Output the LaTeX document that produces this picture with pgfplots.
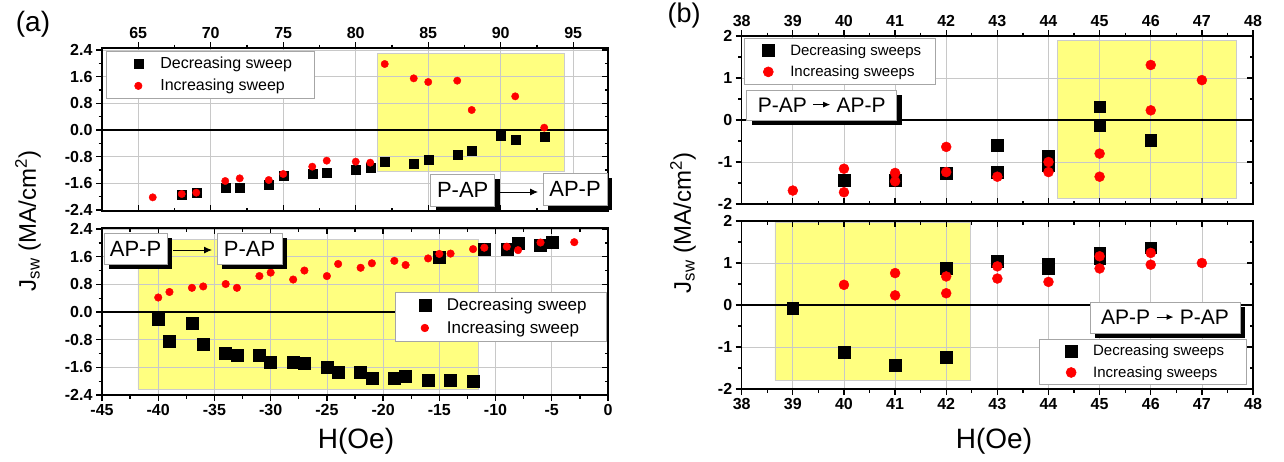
\documentclass[border=0pt]{standalone}
\usepackage{fontspec}
\setmainfont{Liberation Sans}
\usepackage{pgfplots}
\pgfplotsset{compat=1.18}
\usetikzlibrary{shadows,arrows.meta}
\definecolor{yel}{RGB}{255,255,128}
\definecolor{gridc}{RGB}{200,200,200}

\pgfplotsset{
  common/.style={scale only axis, set layers, axis on top=false,
    /pgf/number format/assume math mode=true,
    tick label style={font=\fontsize{16}{19}\selectfont\bfseries},
    axis line style={line width=1.5pt},
    every tick/.append style={line width=1.3pt, black},
    major tick length=6pt, minor tick length=3.5pt},
  mainax/.style={common, grid=major, major grid style={gridc, line width=0.7pt}, tick align=outside},
  overax/.style={common, tick align=inside, xticklabels={}, yticklabels={}, grid=none},
  yfmt/.style={yticklabel style={/pgf/number format/.cd, fixed, fixed zerofill, precision=1}},
  atop/.style={at={(102pt,-48pt)}, anchor=north west, width=506pt, height=163pt,
    xmin=62.5, xmax=97.4, ymin=-2.43, ymax=2.46, xtick={65,70,...,95}, minor x tick num=1,
    ytick={-2.4,-1.6,-0.8,0,0.8,1.6,2.4}, minor y tick num=1},
  abot/.style={at={(102pt,-228pt)}, anchor=north west, width=506pt, height=167pt,
    xmin=-45, xmax=0, ymin=-2.4, ymax=2.43, xtick={-45,-40,...,0}, minor x tick num=1,
    ytick={-2.4,-1.6,-0.8,0,0.8,1.6,2.4}, minor y tick num=1},
  btop/.style={at={(741.7pt,-36pt)}, anchor=north west, width=511.3pt, height=168pt,
    xmin=38, xmax=48, ymin=-2, ymax=2, xtick={38,...,48}, minor x tick num=1,
    ytick={-2,-1,0,1,2}, minor y tick num=1},
  bbot/.style={at={(741.7pt,-221pt)}, anchor=north west, width=511.3pt, height=168pt,
    xmin=38, xmax=48, ymin=-2, ymax=2, xtick={38,...,48}, minor x tick num=1,
    ytick={-2,-1,0,1,2}, minor y tick num=1},
  lg/.style={legend image code/.code={\draw[##1, only marks] plot coordinates {(12pt,0pt)}; \path[draw=none, fill=none] (0pt,0pt) -- (32pt,0pt);}},
  lgbox/.style={legend cell align=left, draw=gray!70, line width=0.6pt, fill=white,
    font=\fontsize{#1}{#1}\selectfont, row sep=5pt, inner ysep=4pt},
}
\tikzset{lbl/.style={draw=gray!70, fill=white, line width=0.6pt, inner sep=0pt,
  drop shadow={shadow xshift=5pt, shadow yshift=-5pt, fill=black, opacity=1}}}

\begin{document}
\begin{tikzpicture}

% ---------- (a) top ----------
\begin{axis}[mainax, atop, yfmt, xtick pos=right, xticklabel pos=right, ytick pos=left,
  legend style={lgbox=16, at={(axis description cs:0.008,0.982)}, anchor=north west, inner xsep=20pt}]
\addplot[fill=yel, draw=gray!40, on layer=axis background, forget plot] coordinates {(81.5,2.3) (94.4,2.3) (94.4,-1.23) (81.5,-1.23) (81.5,2.3)};
\addplot[black, line width=1.3pt, forget plot] coordinates {(62.5,0) (97.4,0)};
\addplot[only marks, lg, mark=square*, mark size=4.5pt, black] coordinates {
(68,-1.95) (69,-1.88) (71,-1.72) (72,-1.72) (74,-1.65) (75,-1.38) (77,-1.30) (78,-1.27) (80,-1.18) (81,-1.13) (82,-0.95) (84,-1.02) (85,-0.88) (87,-0.73) (88,-0.63) (90,-0.16) (91,-0.30) (93,-0.20)};
\addlegendentry{Decreasing sweep}
\addplot[only marks, lg, mark=*, mark size=3.7pt, red] coordinates {
(66,-2.02) (68,-1.92) (69,-1.88) (71,-1.53) (72,-1.45) (74,-1.50) (75,-1.32) (77,-1.10) (78,-0.92) (80,-0.95) (81,-0.98) (82,1.98) (84,1.55) (85,1.44) (87,1.48) (88,0.60) (91,1.01) (93,0.07)};
\addlegendentry{Increasing sweep}
\end{axis}
\begin{axis}[overax, atop, xtick pos=left, ytick pos=right]
\addplot[draw=none] coordinates {(70,0)};
\end{axis}

% ---------- (a) bottom ----------
\begin{axis}[mainax, abot, yfmt, xtick pos=left, ytick pos=left,
  legend style={lgbox=17, at={(axis description cs:0.998,0.617)}, anchor=north east, inner xsep=18pt}]
\addplot[fill=yel, draw=gray!40, on layer=axis background, forget plot] coordinates {(-41.8,2.10) (-11.5,2.10) (-11.5,-2.23) (-41.8,-2.23) (-41.8,2.10)};
\addplot[black, line width=1.3pt, forget plot] coordinates {(-45,0) (0,0)};
\addplot[only marks, lg, mark=square*, mark size=6pt, black] coordinates {
(-40,-0.20) (-39,-0.83) (-37,-0.33) (-36,-0.93) (-34,-1.18) (-33,-1.24) (-31,-1.24) (-30,-1.44) (-28,-1.44) (-27,-1.48) (-25,-1.61) (-24,-1.74) (-22,-1.73) (-21,-1.92) (-19,-1.92) (-18,-1.87) (-16,-1.97) (-15,1.60) (-14,-1.97) (-12,-2.01) (-11,1.83) (-9,1.81) (-8,1.99) (-6,1.92) (-5,2.03)};
\addlegendentry{Decreasing sweep}
\addplot[only marks, lg, mark=*, mark size=3.8pt, red] coordinates {
(-40,0.42) (-39,0.58) (-37,0.70) (-36,0.74) (-34,0.81) (-33,0.70) (-31,1.04) (-30,1.14) (-28,0.94) (-27,1.20) (-25,1.04) (-24,1.39) (-22,1.28) (-21,1.41) (-19,1.48) (-18,1.36) (-16,1.55) (-15,1.68) (-14,1.69) (-12,1.82) (-11,1.86) (-9,1.89) (-8,1.79) (-6,2.01) (-3,2.02)};
\addlegendentry{Increasing sweep}
\end{axis}
\begin{axis}[overax, abot, xtick pos=right, ytick pos=right]
\addplot[draw=none] coordinates {(-20,0)};
\end{axis}

% ---------- (b) top ----------
\begin{axis}[mainax, btop, xtick pos=right, xticklabel pos=right, ytick pos=left,
  legend style={lgbox=15, at={(axis description cs:0.0045,0.988)}, anchor=north west, inner xsep=12pt}]
\addplot[fill=yel, draw=gray!40, on layer=axis background, forget plot] coordinates {(44.17,1.89) (47.68,1.89) (47.68,-1.87) (44.17,-1.87) (44.17,1.89)};
\addplot[black, line width=1.3pt, forget plot] coordinates {(38,0) (48,0)};
\addplot[only marks, lg, mark=square*, mark size=5.8pt, black] coordinates {
(40,-1.43) (41,-1.44) (42,-1.27) (43,-0.60) (43,-1.24) (44,-0.86) (44,-1.08) (45,0.32) (45,-0.12) (46,-0.48)};
\addlegendentry{Decreasing sweeps}
\addplot[only marks, lg, mark=*, mark size=5pt, red] coordinates {
(39,-1.68) (40,-1.16) (40,-1.72) (41,-1.26) (41,-1.46) (42,-0.64) (42,-1.24) (43,-1.35) (44,-1.00) (44,-1.24) (45,-0.80) (45,-1.35) (46,1.31) (46,0.23) (47,0.95)};
\addlegendentry{Increasing sweeps}
\end{axis}
\begin{axis}[overax, btop, xtick pos=left, ytick pos=right]
\addplot[draw=none] coordinates {(40,0)};
\end{axis}

% ---------- (b) bottom ----------
\begin{axis}[mainax, bbot, xtick pos=left, ytick pos=left,
  legend style={lgbox=15, at={(axis description cs:0.987,0.024)}, anchor=south east, inner xsep=20pt}]
\addplot[fill=yel, draw=gray!40, on layer=axis background, forget plot] coordinates {(38.65,1.98) (42.47,1.98) (42.47,-1.80) (38.65,-1.80) (38.65,1.98)};
\addplot[black, line width=1.3pt, forget plot] coordinates {(38,0) (48,0)};
\addplot[only marks, lg, mark=square*, mark size=5.8pt, black] coordinates {
(39,-0.08) (40,-1.12) (41,-1.44) (42,0.88) (42,-1.24) (43,1.04) (44,0.98) (44,0.86) (45,1.24) (45,1.12) (46,1.36)};
\addlegendentry{Decreasing sweeps}
\addplot[only marks, lg, mark=*, mark size=5pt, red] coordinates {
(40,0.48) (41,0.76) (41,0.23) (42,0.68) (42,0.28) (43,0.92) (43,0.63) (44,0.55) (45,1.16) (45,0.87) (46,1.24) (46,0.96) (47,1.0)};
\addlegendentry{Increasing sweeps}
\end{axis}
\begin{axis}[overax, bbot, xtick pos=right, ytick pos=right]
\addplot[draw=none] coordinates {(40,0)};
\end{axis}

% ---------- annotations ----------
\node[lbl, minimum width=64pt, minimum height=32pt, font=\fontsize{22}{26}\selectfont] at (462.7pt,-190pt) {P-AP};
\node[lbl, minimum width=64pt, minimum height=32pt, font=\fontsize{22}{26}\selectfont] at (575pt,-189pt) {AP-P};
\draw[-{Latex[length=8pt,width=7pt]}, line width=0.9pt] (500pt,-192pt) -- (538pt,-192pt);

\node[lbl, minimum width=63pt, minimum height=31pt, font=\fontsize{22}{26}\selectfont] at (135.5pt,-248.5pt) {AP-P};
\node[lbl, minimum width=65pt, minimum height=31pt, font=\fontsize{22}{26}\selectfont] at (249.5pt,-248.5pt) {P-AP};
\draw[-{Latex[length=8pt,width=7pt]}, line width=0.9pt] (173pt,-250pt) -- (212pt,-250pt);

\node[lbl, minimum width=150pt, minimum height=30pt, font=\fontsize{21}{25}\selectfont] at (821.7pt,-105pt) {P-AP \raisebox{0.22em}{\tikz\draw[-{Latex[length=7pt,width=6pt]}, line width=1pt] (0,0) -- (17pt,0);} AP-P};
\node[lbl, minimum width=150pt, minimum height=31pt, font=\fontsize{21}{25}\selectfont] at (1165pt,-317.5pt) {AP-P \raisebox{0.22em}{\tikz\draw[-{Latex[length=7pt,width=6pt]}, line width=1pt] (0,0) -- (17pt,0);} P-AP};

\node[rotate=90, font=\fontsize{24}{28}\selectfont] at (28pt,-221pt) {J\textsubscript{sw} (MA/cm\textsuperscript{2})};
\node[rotate=90, font=\fontsize{24}{28}\selectfont] at (683pt,-223pt) {J\textsubscript{sw} (MA/cm\textsuperscript{2})};
\node[font=\fontsize{28}{32}\selectfont] at (356pt,-441pt) {H(Oe)};
\node[font=\fontsize{28}{32}\selectfont] at (994pt,-441pt) {H(Oe)};
\node[font=\fontsize{28}{32}\selectfont] at (33pt,-24pt) {(a)};
\node[font=\fontsize{27}{31}\selectfont] at (684pt,-16pt) {(b)};

\pgfresetboundingbox
\path[use as bounding box] (0pt,0pt) rectangle (1284pt,-461pt);
\end{tikzpicture}
\end{document}
